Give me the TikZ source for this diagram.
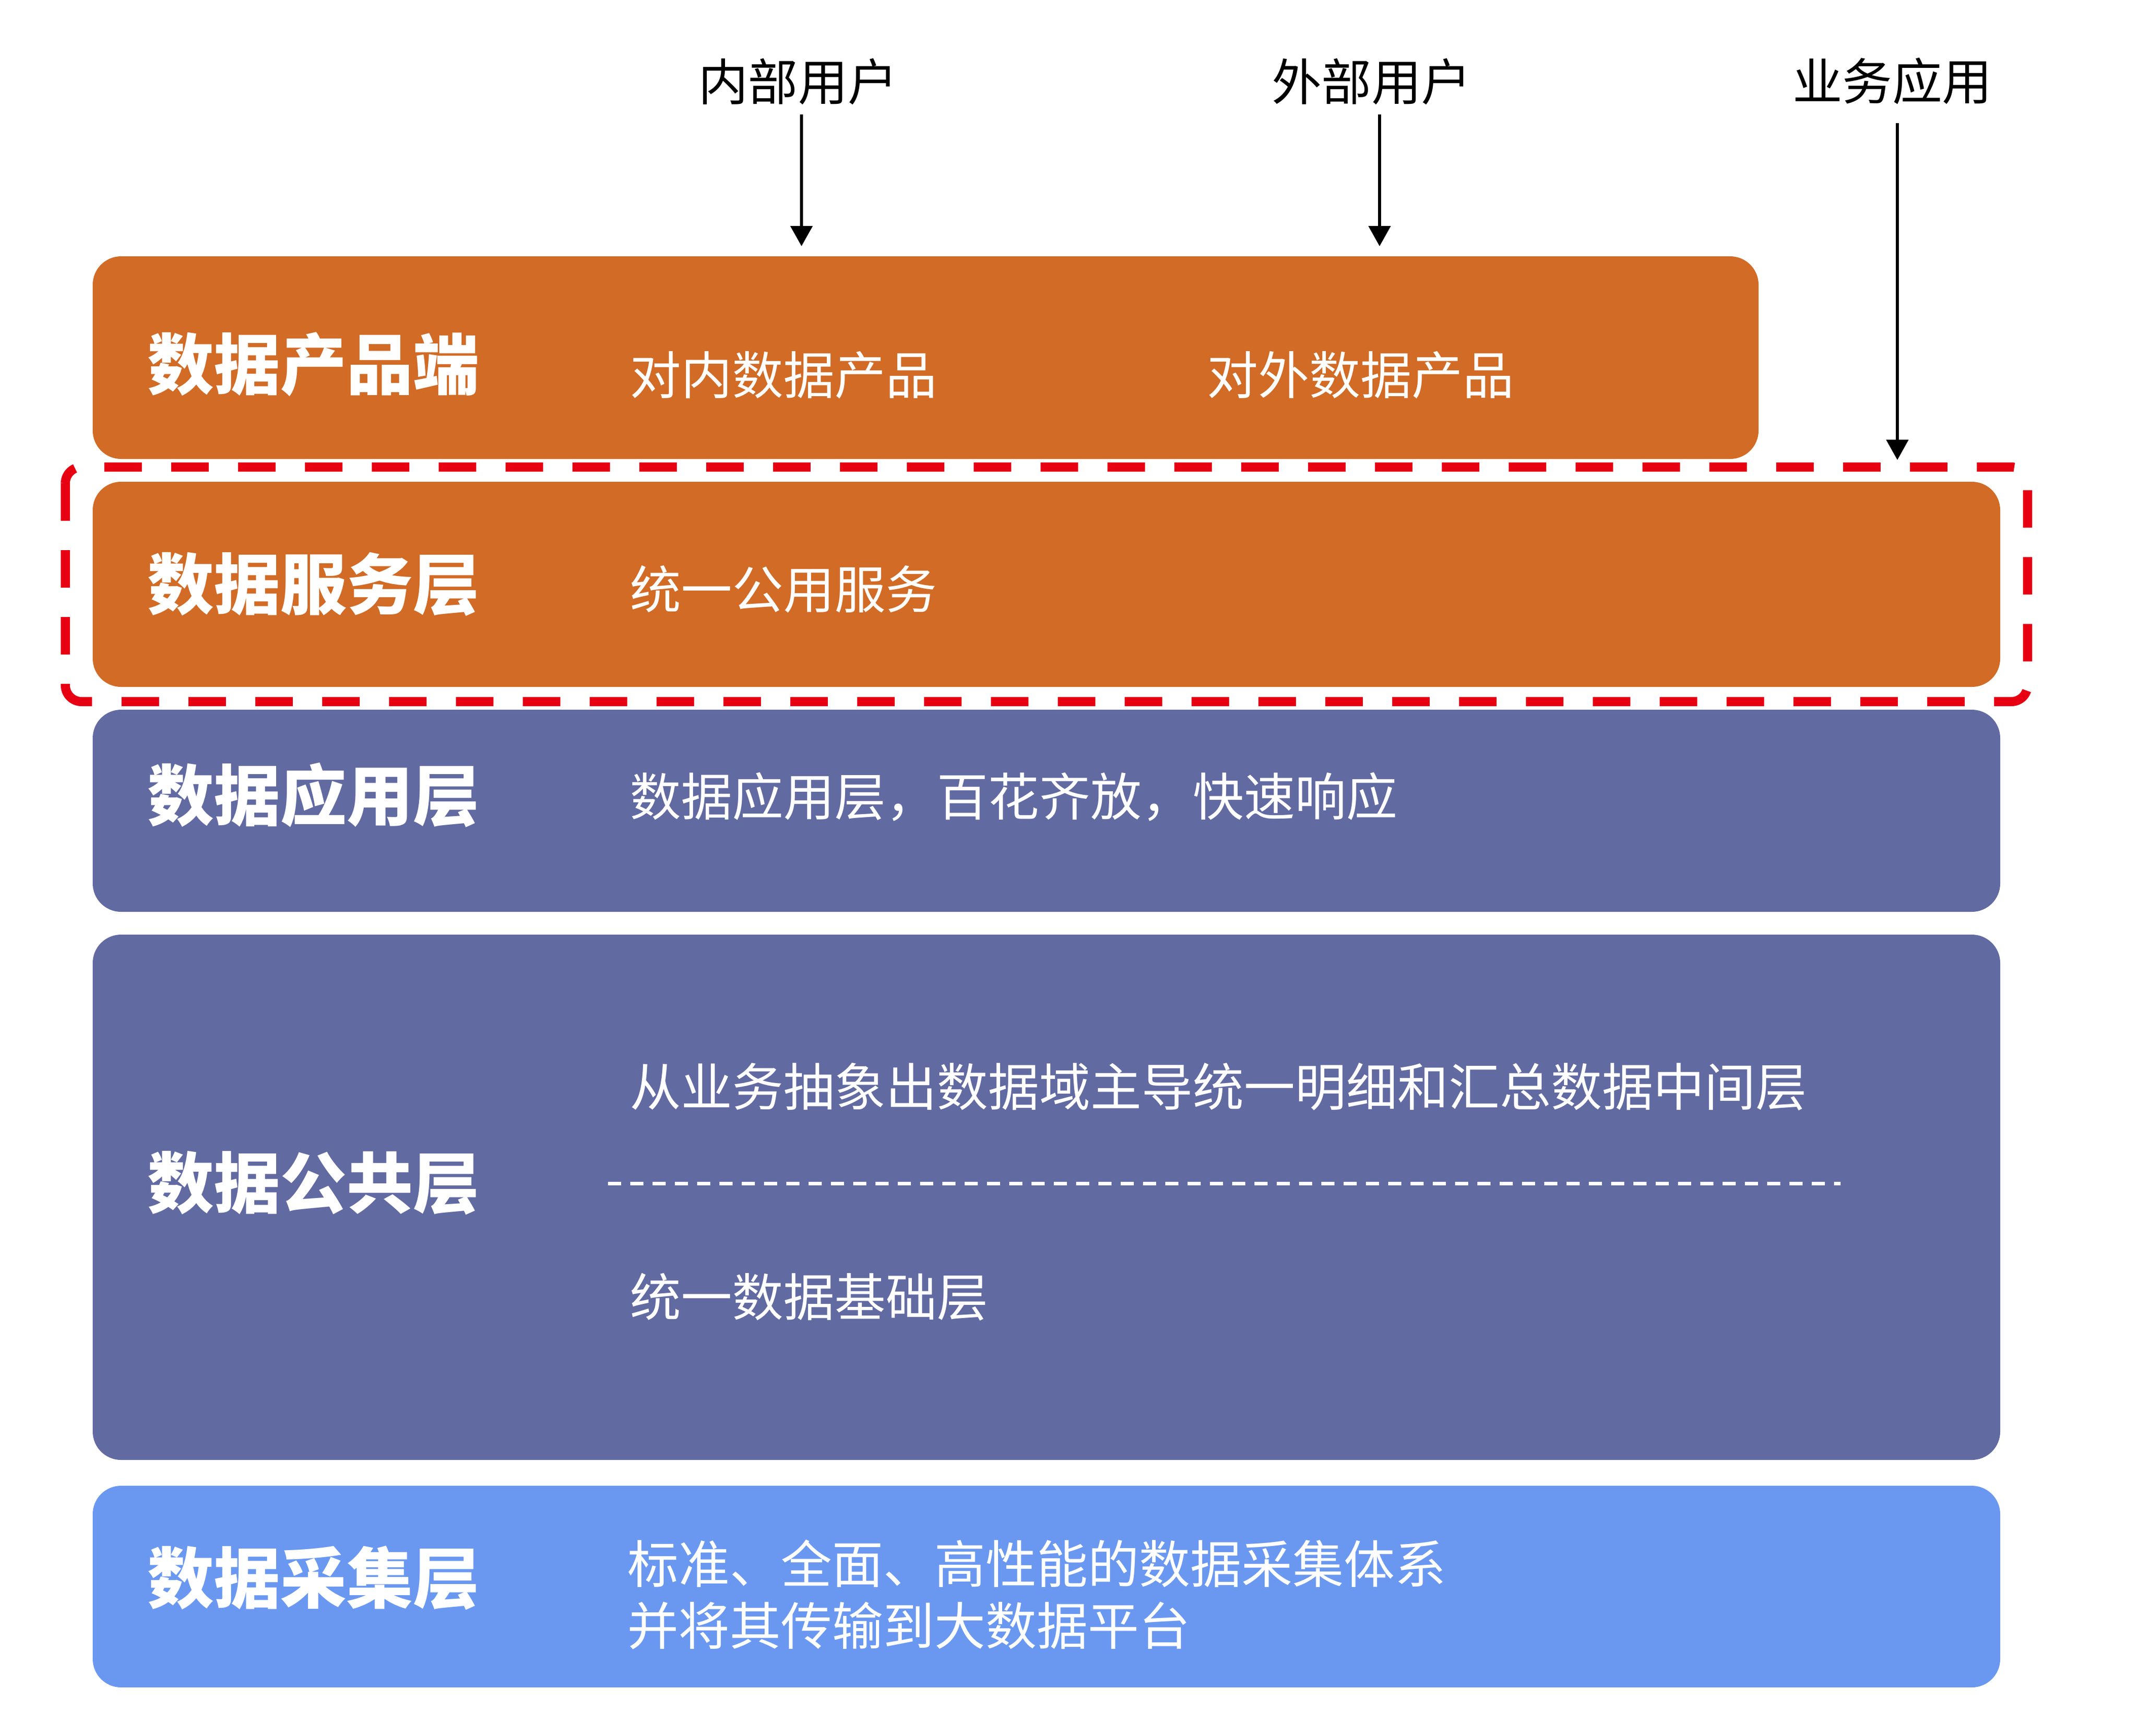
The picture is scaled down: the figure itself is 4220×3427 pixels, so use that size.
\documentclass[tikz,border=0pt]{standalone}
\usepackage{fontspec}
\setmainfont{Noto Sans CJK SC}[BoldFont={Noto Sans CJK SC Black}]
\usetikzlibrary{arrows.meta}
\definecolor{layerorange}{RGB}{209,107,38}
\definecolor{layerpurple}{RGB}{98,106,162}
\definecolor{layerblue}{RGB}{106,152,241}
\definecolor{framered}{RGB}{230,0,18}
\tikzset{
	layerbox/.style={rounded corners=14pt},
	layertitle/.style={anchor=west, inner sep=0pt, text=white, font=\fontsize{32.75}{36}\selectfont\bfseries},
	layertext/.style={anchor=west, inner sep=0pt, text=white, align=left, font=\fontsize{25.25}{30.5}\selectfont},
	usertext/.style={inner sep=0pt, font=\fontsize{24.6}{28}\selectfont},
	userarrow/.style={line width=1.5pt, -{Triangle[length=10pt,width=10.75pt]}}
}

\begin{document}
\begin{tikzpicture}[x=0.25pt,y=-0.25pt]
	\useasboundingbox (0,0) rectangle (4220,3427);
	% layers
	\fill[layerorange,layerbox] (183,506) rectangle (3471,906);
	\fill[layerorange,layerbox] (183,951) rectangle (3948,1356);
	\fill[layerpurple,layerbox] (183,1401) rectangle (3948,1800);
	\fill[layerpurple,layerbox] (183,1845) rectangle (3948,2882);
	\fill[layerblue,layerbox] (183,2933) rectangle (3948,3331);
	\draw[framered, line width=4.5pt, dash pattern=on 18.5pt off 14.5pt, rounded corners=8pt] (129,922) rectangle (4002,1385);
	\draw[white, line width=1.75pt, dash pattern=on 6.5pt off 4.5pt] (1200,2336) -- (3633,2336);
	% titles
	\node[layertitle] (product) at (291,719) {数据产品端};
	\node[layertitle] (service) at (291,1153) {数据服务层};
	\node[layertitle] (apply) at (291,1570) {数据应用层};
	\node[layertitle] (common) at (291,2335) {数据公共层};
	\node[layertitle] (collect) at (291,3115) {数据采集层};
	% texts
	\node[layertext] (inprod) at (1243,740) {对内数据产品};
	\node[layertext] (outprod) at (2382,740) {对外数据产品};
	\node[layertext] (unisrv) at (1243,1163) {统一公用服务};
	\node[layertext] (applytxt) at (1243,1573) {数据应用层，百花齐放，快速响应};
	\node[layertext] (midlayer) at (1243,2145) {从业务抽象出数据域主导统一明细和汇总数据中间层};
	\node[layertext] (baselayer) at (1243,2560) {统一数据基础层};
	\node[layertext] (collecttxt) at (1238,3148) {标准、全面、高性能的数据采集体系\\并将其传输到大数据平台};
	% users
	\node[usertext] (inuser) at (1575,161) {内部用户};
	\node[usertext] (outuser) at (2707,161) {外部用户};
	\node[usertext] (bizapp) at (3735,160) {业务应用};
	\coordinate (inend) at (1582,486);
	\coordinate (outend) at (2723,486);
	\coordinate (bizend) at (3745,908);
	\draw[userarrow, shorten <=4.5pt] (inuser.south -| inend) -- (inend);
	\draw[userarrow, shorten <=4.5pt] (outuser.south -| outend) -- (outend);
	\draw[userarrow, shorten <=9pt] (bizapp.south -| bizend) -- (bizend);
\end{tikzpicture}
\end{document}
